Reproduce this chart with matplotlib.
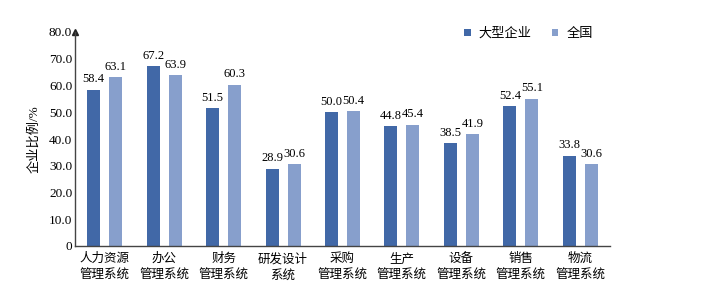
import numpy as np
import matplotlib.pyplot as plt

plt.rcParams['font.family'] = ['Liberation Serif', 'Noto Sans CJK SC']

# categories and values
categories = ['人力资源\n管理系统', '办公\n管理系统', '财务\n管理系统', '研发设计\n系统', '采购\n管理系统',
              '生产\n管理系统', '设备\n管理系统', '销售\n管理系统', '物流\n管理系统']
large = [58.4, 67.2, 51.5, 28.9, 50.0, 44.8, 38.5, 52.4, 33.8]
national = [63.1, 63.9, 60.3, 30.6, 50.4, 45.4, 41.9, 55.1, 30.6]
yticks = [0, 10, 20, 30, 40, 50, 60, 70, 80]

c_dark = '#4168a7'
c_light = '#879fcc'

fig = plt.figure(figsize=(7.19, 2.91), dpi=100)
ax = fig.add_axes([75 / 719, 45 / 291, 535 / 719, 214 / 291])

x = np.arange(len(categories))
w = 0.22
off = 0.185
b1 = ax.bar(x - off, large, w, color=c_dark, label='大型企业')
b2 = ax.bar(x + off, national, w, color=c_light, label='全国')

for bars, vals in ((b1, large), (b2, national)):
    for b, v in zip(bars, vals):
        ax.text(b.get_x() + b.get_width() / 2, v + 1.6, f'{v:.1f}',
                ha='center', va='bottom', fontsize=9)

ax.set_xlim(-0.5, len(categories) - 0.5)
ax.set_ylim(0, 80)
ax.set_yticks(yticks)
ax.set_yticklabels(['0'] + [f'{t:.1f}' for t in yticks[1:]], fontsize=9.5)
ax.set_xticks(x)
ax.set_xticklabels(categories, fontsize=9, linespacing=1.5)
ax.tick_params(axis='x', length=0, pad=5)
ax.tick_params(axis='y', length=0, pad=2)
ax.spines['top'].set_visible(False)
ax.spines['right'].set_visible(False)
for s in ('left', 'bottom'):
    ax.spines[s].set_color('#444444')
    ax.spines[s].set_linewidth(1.0)
ax.plot(0, 1, marker='^', color='#222222', markersize=4, transform=ax.transAxes, clip_on=False)

ax.set_ylabel('企业比例/%', fontsize=9.5, labelpad=6)

ax.legend(loc='upper right', bbox_to_anchor=(0.99, 1.075), ncol=2, frameon=False,
          fontsize=9.5, handlelength=0.5, handleheight=0.5, handletextpad=0.6, columnspacing=1.5)

plt.savefig('out.png', dpi=100)
